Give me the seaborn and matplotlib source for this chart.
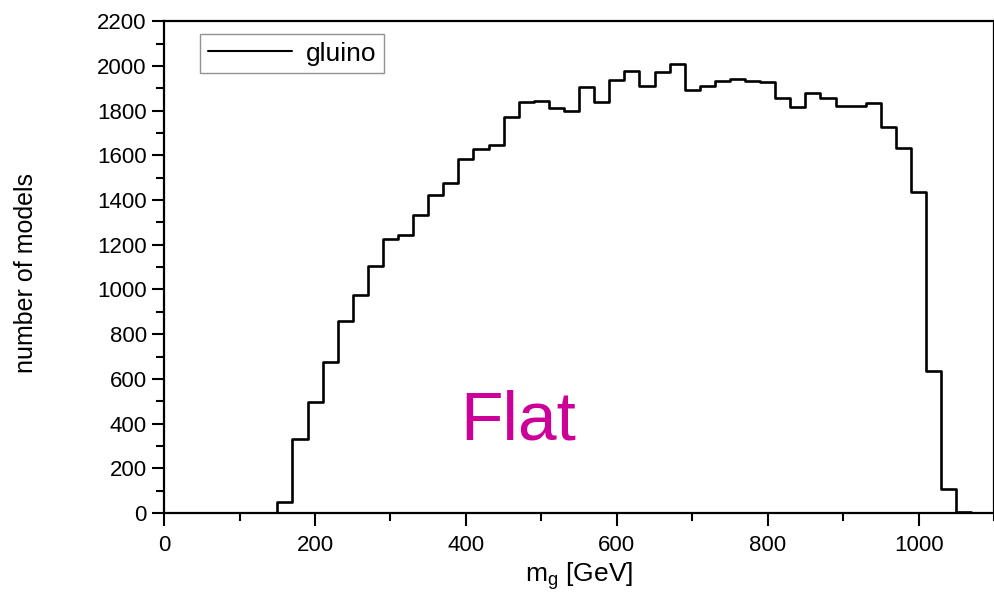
import pandas as pd
import seaborn as sns
import matplotlib.pyplot as plt
from matplotlib.lines import Line2D
from matplotlib.ticker import MultipleLocator

# bin edges of the gluino mass histogram (20 GeV wide), with empty bins at both ends
bin_edges = list(range(130, 1091, 20))
bin_counts = [0,
              50, 330, 495, 676, 860, 975, 1105, 1228, 1246, 1332,
              1424, 1476, 1583, 1630, 1645, 1774, 1840, 1843, 1814, 1798,
              1904, 1840, 1936, 1976, 1911, 1973, 2008, 1893, 1911, 1931,
              1940, 1931, 1929, 1855, 1817, 1880, 1856, 1820, 1823, 1835,
              1729, 1631, 1436, 636, 106, 5,
              0]
bin_centers = [e + 10 for e in bin_edges[:-1]]

df = pd.DataFrame({'mass': bin_centers, 'count': bin_counts})

sns.set_style('ticks')
plt.rcParams['font.family'] = ['Liberation Sans', 'DejaVu Sans']
plt.rcParams['text.color'] = 'black'
plt.rcParams['axes.labelcolor'] = 'black'
plt.rcParams['xtick.color'] = 'black'
plt.rcParams['ytick.color'] = 'black'

fig = plt.figure(figsize=(9.95, 5.93), dpi=100)
ax = fig.add_axes([0.165, 0.135, 0.834, 0.829])

sns.histplot(data=df, x='mass', weights='count', bins=bin_edges, element='step',
             fill=False, color='black', linewidth=1.9, ax=ax)

ax.set_xlim(0, 1100)
ax.set_ylim(0, 2200)
ax.xaxis.set_major_locator(MultipleLocator(200))
ax.xaxis.set_minor_locator(MultipleLocator(100))
ax.yaxis.set_major_locator(MultipleLocator(200))
ax.yaxis.set_minor_locator(MultipleLocator(100))
ax.tick_params(which='major', length=9, width=1.5, labelsize=16, direction='out')
ax.tick_params(which='minor', length=6, width=1.5, direction='out')
ax.tick_params(axis='x', pad=7)
for side in ['top', 'right', 'left', 'bottom']:
    ax.spines[side].set_visible(True)
    ax.spines[side].set_linewidth(1.6)
    ax.spines[side].set_color('black')

ax.set_xlabel('m$_\\mathregular{g}$ [GeV]', fontsize=19, labelpad=3)
ax.set_ylabel('number of models', fontsize=18)
ax.yaxis.set_label_coords(-0.152, 0.488)

ax.text(469, 408, 'Flat', color='#cc0099', fontsize=50, ha='center', va='center')

handle = Line2D([], [], color='black', linewidth=1.5)
leg = ax.legend(handles=[handle], labels=['gluino'], loc='upper left',
                bbox_to_anchor=(0.043, 0.975), fontsize=19, frameon=True,
                fancybox=False, handlelength=3.2, borderpad=0.3,
                handletextpad=0.5, borderaxespad=0)
leg.get_frame().set_edgecolor('#777777')
leg.get_frame().set_linewidth(1.0)

fig.savefig('out.png', dpi=100)
